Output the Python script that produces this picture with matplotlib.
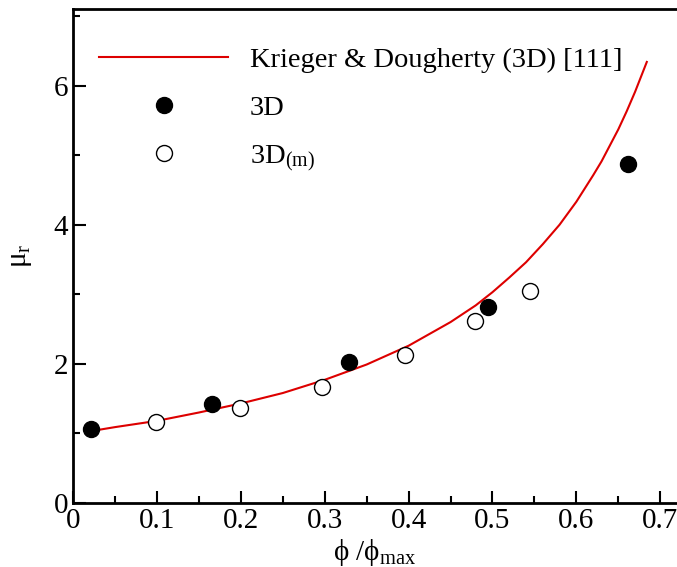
import matplotlib

matplotlib.use("Agg")
import matplotlib.pyplot as plt
from matplotlib.ticker import MultipleLocator

plt.rcParams["font.family"] = ["Liberation Serif", "DejaVu Serif"]
plt.rcParams["mathtext.fontset"] = "custom"
plt.rcParams["mathtext.rm"] = "Liberation Serif"
plt.rcParams["mathtext.it"] = "Liberation Serif:italic"

# Krieger & Dougherty curve
kd_x = [0.02, 0.05, 0.10, 0.15, 0.20, 0.25, 0.30, 0.35, 0.40, 0.45, 0.48,
        0.50, 0.52, 0.54, 0.56, 0.58, 0.60, 0.61, 0.62, 0.63, 0.64, 0.65,
        0.66, 0.67, 0.684]
kd_y = [1.03, 1.09, 1.18, 1.30, 1.43, 1.58, 1.77, 1.99, 2.26, 2.60, 2.84,
        3.03, 3.24, 3.46, 3.72, 4.00, 4.33, 4.52, 4.71, 4.91, 5.14, 5.37,
        5.63, 5.91, 6.34]

# 3D (filled)
d3_x = [0.021, 0.166, 0.329, 0.495, 0.661]
d3_y = [1.07, 1.42, 2.02, 2.82, 4.87]

# 3D(m) (open)
d3m_x = [0.099, 0.199, 0.297, 0.396, 0.479, 0.545]
d3m_y = [1.16, 1.36, 1.66, 2.13, 2.61, 3.04]

fig = plt.figure(figsize=(6.77, 5.67), dpi=100)
ax = fig.add_axes([0.108, 0.113, 0.892, 0.871])

ax.plot(kd_x, kd_y, color="#dd0000", lw=1.5, label="Krieger & Dougherty (3D) [111]")
ax.plot(d3_x, d3_y, "o", ms=11.5, mfc="black", mec="black", label="3D")
ax.plot(d3m_x, d3m_y, "o", ms=11.5, mfc="white", mec="black", mew=1.0,
        label="3D$_{\\mathrm{(m)}}$")

ax.set_xlim(0, 0.72)
ax.set_ylim(0, 7.1)
ax.xaxis.set_major_locator(MultipleLocator(0.1))
ax.xaxis.set_minor_locator(MultipleLocator(0.05))
ax.yaxis.set_major_locator(MultipleLocator(2))
ax.yaxis.set_minor_locator(MultipleLocator(1))
ax.tick_params(which="both", direction="in", labelsize=21, width=1.5)
ax.tick_params(which="major", length=9)
ax.tick_params(which="minor", length=5)
ax.tick_params(axis="x", pad=4)
ax.xaxis.set_major_formatter(plt.FuncFormatter(lambda v, p: "0" if v == 0 else f"{v:.1f}"))

for side in ["left", "bottom", "top"]:
    ax.spines[side].set_linewidth(2)
ax.spines["right"].set_visible(False)

ax.set_xlabel("ϕ /ϕ$_{\\mathrm{max}}$", fontsize=21, labelpad=2)
ax.set_ylabel("μ$_{\\mathrm{r}}$", fontsize=21, labelpad=14)

leg = ax.legend(loc="upper left", frameon=False, fontsize=20.5, handlelength=4.55,
                handletextpad=0.75, labelspacing=0.78, borderaxespad=0.4,
                bbox_to_anchor=(0.005, 0.97))

fig.savefig("out.png", dpi=100)
